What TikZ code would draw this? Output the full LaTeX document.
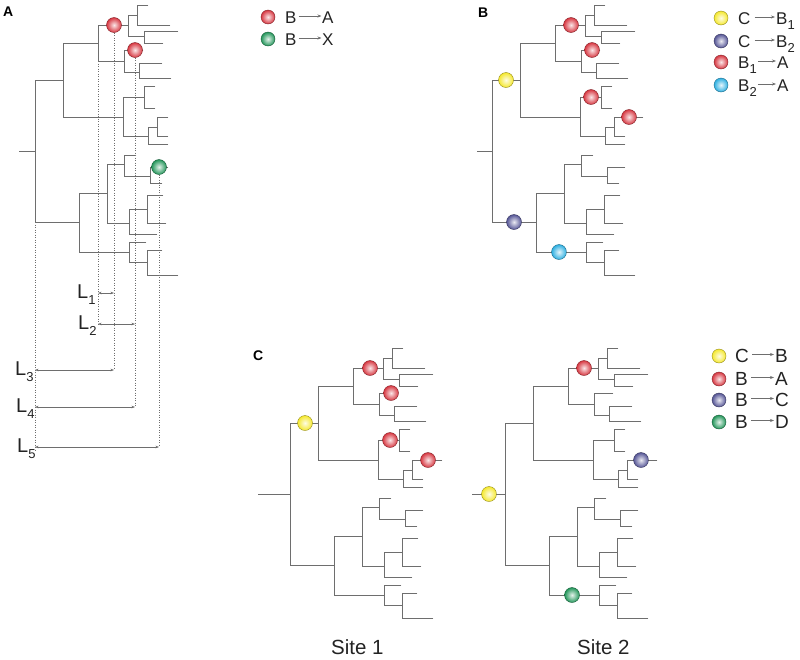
\documentclass[tikz,border=0pt]{standalone}
\usepackage{fontspec}
\setmainfont{Liberation Sans}
\usetikzlibrary{arrows.meta}
\definecolor{branchgray}{RGB}{110,110,110}
\definecolor{ballred}{RGB}{215,55,65}
\definecolor{ballgreen}{RGB}{35,150,90}
\definecolor{ballyellow}{RGB}{245,232,45}
\definecolor{ballpurple}{RGB}{85,85,150}
\definecolor{ballblue}{RGB}{45,175,225}
\definecolor{txt}{RGB}{35,35,35}
\newcommand\sbs[1]{\raisebox{-0.32em}{\fontsize{13}{13}\selectfont #1}}
\newcommand\tcl[5]{\draw[branch] (#1,#3) -- (#2,#3) (#2,#4) -- (#2,#5);}
\newcommand\tlf[3]{\draw[branch] (#1,#2) -- (#3,#2);}
\newcommand\phylotree[2]{%
 \draw[branch] (#1,151) -- (35,151) (35,80) -- (35,222);
 \tcl{35}{63}{80}{43}{117}
 \tcl{63}{98}{43}{25}{61}
 \tcl{98}{128}{25}{15}{36}
 \tcl{128}{137}{15}{5}{25}
 \tlf{137}{5}{148}
 \tlf{137}{25}{170}
 \tcl{128}{144}{36}{31}{43}
 \tlf{144}{31}{178}
 \tlf{144}{43}{163}
 \tcl{98}{124}{61}{50}{72}
 \tlf{124}{50}{143}
 \tcl{124}{139}{72}{63}{78}
 \tlf{139}{63}{162}
 \tlf{139}{78}{171}
 \tcl{63}{123}{117}{97}{136}
 \tcl{123}{144}{97}{86}{108}
 \tlf{144}{86}{155}
 \tlf{144}{108}{155}
 \tcl{123}{148}{136}{127}{144}
 \tcl{148}{157}{127}{117}{136}
 \tlf{157}{117}{#2}
 \tlf{157}{136}{168}
 \tlf{148}{144}{168}
 \tcl{35}{79}{222}{193}{252}
 \tcl{79}{107}{193}{164}{223}
 \tcl{107}{124}{164}{155}{176}
 \tlf{124}{155}{136}
 \tcl{124}{150}{176}{167}{183}
 \tlf{150}{167}{168}
 \tlf{150}{183}{162}
 \tcl{107}{129}{223}{209}{234}
 \tcl{129}{147}{209}{195}{223}
 \tlf{147}{195}{163}
 \tlf{147}{223}{166}
 \tlf{129}{234}{157}
 \tcl{79}{129}{252}{242}{262}
 \tlf{129}{242}{146}
 \tcl{129}{147}{262}{250}{275}
 \tlf{147}{250}{162}
 \tlf{147}{275}{178}
}
\begin{document}
\begin{tikzpicture}[x=1pt,y=-1pt,
  branch/.style={draw=branchgray,line width=0.9pt,line cap=rect},
  dots/.style={draw=branchgray,line width=0.7pt,dash pattern=on 0.8pt off 1.7pt},
  meas/.style={draw=branchgray,line width=0.6pt,{Stealth[length=3.5pt,width=2.6pt]}-{Stealth[length=3.5pt,width=2.6pt]}},
  legarr/.style={draw=branchgray,line width=0.6pt,-{Stealth[length=4pt,width=3pt]}},
  ball/.style={circle,minimum size=15pt,inner sep=0pt,draw=#1!60!black,line width=0.4pt,inner color=#1!12!white,outer color=#1},
  lbl/.style={inner sep=0pt,anchor=base west,text=txt},
  panel/.style={inner sep=0pt,anchor=base west,text=black,font=\fontsize{14}{16}\selectfont\bfseries},
  legA/.style={lbl,font=\fontsize{17}{20}\selectfont},
  legB/.style={lbl,font=\fontsize{17}{20}\selectfont},
  legC/.style={lbl,font=\fontsize{19}{22}\selectfont},
  lenlbl/.style={lbl,font=\fontsize{20}{24}\selectfont},
  site/.style={lbl,font=\fontsize{20.5}{24}\selectfont}]
\useasboundingbox (0,0) rectangle (800,659);

% ---------------- Panel A ----------------
\node[panel] (pA) at (3,16) {A};
\phylotree{19}{168}
\coordinate (rA) at (35,222);
\coordinate (rAend) at (35,450);
\coordinate (nA) at (98,61);
\coordinate (m1a) at (98,293);  \coordinate (m1b) at (114,293);
\coordinate (m2a) at (98,324);  \coordinate (m2b) at (135,324);
\coordinate (m3a) at (35,370);  \coordinate (m3b) at (114,370);
\coordinate (m4a) at (35,407);  \coordinate (m4b) at (135,407);
\coordinate (m5a) at (35,447);  \coordinate (m5b) at (159,447);
\node[ball=ballred] (a1) at (114,25) {};
\node[ball=ballred] (a2) at (135,50) {};
\node[ball=ballgreen] (a3) at (159,167) {};
\draw[dots] (rA) -- (rAend);
\draw[dots] (nA) -- (m2a);
\draw[dots] (a1.south) -- (m3b);
\draw[dots] (a2.south) -- (m4b);
\draw[dots] (a3.south) -- (m5b);
\draw[meas] (m1a) -- (m1b);
\draw[meas] (m2a) -- (m2b);
\draw[meas] (m3a) -- (m3b);
\draw[meas] (m4a) -- (m4b);
\draw[meas] (m5a) -- (m5b);
\node[lenlbl] (L1) at (77,298) {L\sbs{1}};
\node[lenlbl] (L2) at (78,329) {L\sbs{2}};
\node[lenlbl] (L3) at (15,375) {L\sbs{3}};
\node[lenlbl] (L4) at (16,412) {L\sbs{4}};
\node[lenlbl] (L5) at (17,452) {L\sbs{5}};

% legend A
\node[ball=ballred,minimum size=14pt] (ka1) at (268,17) {};
\node[legA] (ka1l) at (285,23) {B};
\node[legA] (ka1r) at (322,23) {A};
\draw[legarr] ([xshift=2pt,yshift=7pt]ka1l.base east) -- ([xshift=-0.5pt,yshift=7pt]ka1r.base west);
\node[ball=ballgreen,minimum size=14pt] (ka2) at (268,39) {};
\node[legA] (ka2l) at (285,45) {B};
\node[legA] (ka2r) at (322,45) {X};
\draw[legarr] ([xshift=2pt,yshift=7pt]ka2l.base east) -- ([xshift=-0.5pt,yshift=7pt]ka2r.base west);

% ---------------- Panel B ----------------
\node[panel] (pB) at (478,17) {B};
\begin{scope}[shift={(457,0)}]
\phylotree{20}{186}
\node[ball=ballyellow] (b1) at (49,80) {};
\node[ball=ballred] (b2) at (114,25) {};
\node[ball=ballred] (b3) at (135,50) {};
\node[ball=ballred] (b4) at (134,97) {};
\node[ball=ballred] (b5) at (172,117) {};
\node[ball=ballpurple] (b6) at (57,222) {};
\node[ball=ballblue] (b7) at (102,252) {};
\end{scope}

% legend B
\node[ball=ballyellow,minimum size=14pt] (kb1) at (721,18) {};
\node[legB] (kb1l) at (738,24) {C};
\node[legB] (kb1r) at (776,24) {B\sbs{1}};
\draw[legarr] ([xshift=4pt,yshift=7pt]kb1l.base east) -- ([xshift=-1pt,yshift=7pt]kb1r.base west);
\node[ball=ballpurple,minimum size=14pt] (kb2) at (721,41) {};
\node[legB] (kb2l) at (738,47) {C};
\node[legB] (kb2r) at (776,47) {B\sbs{2}};
\draw[legarr] ([xshift=4pt,yshift=7pt]kb2l.base east) -- ([xshift=-1pt,yshift=7pt]kb2r.base west);
\node[ball=ballred,minimum size=14pt] (kb3) at (721,62) {};
\node[legB] (kb3l) at (738,68) {B\sbs{1}};
\node[legB] (kb3r) at (777,68) {A};
\draw[legarr] ([xshift=1pt,yshift=7pt]kb3l.base east) -- ([xshift=-1pt,yshift=7pt]kb3r.base west);
\node[ball=ballblue,minimum size=14pt] (kb4) at (721,85) {};
\node[legB] (kb4l) at (738,91) {B\sbs{2}};
\node[legB] (kb4r) at (777,91) {A};
\draw[legarr] ([xshift=1pt,yshift=7pt]kb4l.base east) -- ([xshift=-1pt,yshift=7pt]kb4r.base west);

% ---------------- Panel C ----------------
\node[panel] (pC) at (253,360) {C};
\begin{scope}[shift={(255,343)}]
\phylotree{3}{187}
\node[ball=ballyellow] (c1) at (50,80) {};
\node[ball=ballred] (c2) at (115,25) {};
\node[ball=ballred] (c3) at (136,50) {};
\node[ball=ballred] (c4) at (135,97) {};
\node[ball=ballred] (c5) at (173,117) {};
\end{scope}
\begin{scope}[shift={(470,343)}]
\phylotree{2}{187}
\node[ball=ballyellow] (d1) at (19,151) {};
\node[ball=ballred] (d2) at (114,25) {};
\node[ball=ballpurple] (d3) at (171,117) {};
\node[ball=ballgreen] (d4) at (102,252) {};
\end{scope}
\node[site] (s1) at (331,654) {Site 1};
\node[site] (s2) at (577,654) {Site 2};

% legend C
\node[ball=ballyellow,minimum size=14pt] (kc1) at (719,356) {};
\node[legC] (kc1l) at (735,362) {C};
\node[legC] (kc1r) at (775,362) {B};
\draw[legarr] ([xshift=3pt,yshift=7.5pt]kc1l.base east) -- ([xshift=-1pt,yshift=7.5pt]kc1r.base west);
\node[ball=ballred,minimum size=14pt] (kc2) at (719,379) {};
\node[legC] (kc2l) at (735,385) {B};
\node[legC] (kc2r) at (775,385) {A};
\draw[legarr] ([xshift=3pt,yshift=7.5pt]kc2l.base east) -- ([xshift=-1pt,yshift=7.5pt]kc2r.base west);
\node[ball=ballpurple,minimum size=14pt] (kc3) at (719,400) {};
\node[legC] (kc3l) at (735,406) {B};
\node[legC] (kc3r) at (775,406) {C};
\draw[legarr] ([xshift=3pt,yshift=7.5pt]kc3l.base east) -- ([xshift=-1pt,yshift=7.5pt]kc3r.base west);
\node[ball=ballgreen,minimum size=14pt] (kc4) at (719,422) {};
\node[legC] (kc4l) at (735,428) {B};
\node[legC] (kc4r) at (775,428) {D};
\draw[legarr] ([xshift=3pt,yshift=7.5pt]kc4l.base east) -- ([xshift=-1pt,yshift=7.5pt]kc4r.base west);
\end{tikzpicture}
\end{document}
